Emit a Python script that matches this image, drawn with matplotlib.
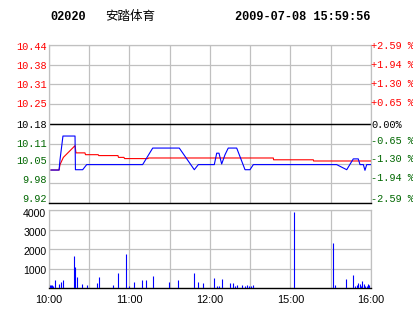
import matplotlib
matplotlib.use("Agg")
import matplotlib.pyplot as plt
from matplotlib.transforms import ScaledTranslation

# ---------------- data ----------------
stock_code = "02020"
stock_name = "安踏体育"
timestamp = "2009-07-08 15:59:56"
prev_close = 10.18
pct_range = 0.0259

price_labels = ["10.44", "10.38", "10.31", "10.25", "10.18", "10.11", "10.05", "9.98", "9.92"]
pct_labels = ["+2.59 %", "+1.94 %", "+1.30 %", "+0.65 %", "0.00%",
              "-0.65 %", "-1.30 %", "-1.94 %", "-2.59 %"]

# price line (minutes from 10:00 in trading time, price)
price_min = [1.5, 7.5, 8.2, 10.4, 19.4, 19.7, 25.1, 28.1, 69.8, 77.3, 97.1, 108.3, 111.3,
             123.2, 125.0, 126.7, 128.7, 131.2, 133.6, 139.9, 146.1, 149.8, 152.3,
             214.4, 221.9, 226.8, 230.5, 231.8, 234.3, 235.5, 236.8, 240.0]
price_val = [10.027, 10.027, 10.061, 10.140, 10.140, 10.028, 10.028, 10.045, 10.045, 10.100,
             10.100, 10.028, 10.045, 10.045, 10.083, 10.083, 10.047, 10.078, 10.100, 10.100,
             10.028, 10.028, 10.045, 10.045, 10.028, 10.064, 10.064, 10.045, 10.045,
             10.026, 10.045, 10.045]

# average price line
avg_min = [1.5, 7.5, 8.2, 10.7, 19.4, 20.1, 26.8, 27.2, 36.7, 37.0, 51.4, 51.8, 55.9, 56.3,
           73.8, 74.2, 167.2, 167.4, 197.0, 197.2, 240.0]
avg_val = [10.027, 10.027, 10.045, 10.069, 10.108, 10.084, 10.084, 10.078, 10.078, 10.075,
           10.075, 10.069, 10.069, 10.065, 10.065, 10.067, 10.067, 10.061, 10.061, 10.057,
           10.057]

# volume bars
vol_min = [0.75, 1.5, 2.2, 3.2, 4.5, 7.7, 8.9, 10.4, 18.9, 19.4, 21.1, 24.8, 28.5, 36.0, 37.5,
           47.9, 51.7, 57.6, 59.9, 63.6, 69.5, 72.5, 77.7, 89.7, 96.4, 108.3, 111.3, 115.0,
           123.2, 125.4, 126.7, 129.2, 134.8, 137.4, 138.4, 140.4, 144.1, 146.3, 147.8,
           149.3, 150.3, 152.3, 182.8, 211.9, 213.4, 221.6, 226.8, 228.3, 229.3, 230.5,
           231.5, 232.5, 233.5, 234.5, 235.7, 236.7, 237.5, 238.7, 239.8]
vol_val = [170, 170, 170, 120, 425, 200, 300, 425, 1670, 1100, 600, 240, 190, 290, 600,
           190, 800, 1770, 140, 340, 425, 425, 650, 340, 425, 800, 340, 270,
           530, 120, 120, 460, 270, 270, 120, 170, 170, 120, 170,
           140, 120, 170, 3900, 2330, 170, 475, 680, 120, 150, 270,
           200, 120, 375, 200, 120, 140, 220, 150, 120]
vol_ticks = [1000, 2000, 3000, 4000]

time_ticks = [0, 60, 120, 180, 240]
time_labels = ["10:00", "11:00", "12:00", "15:00", "16:00"]

# ---------------- style ----------------
RED = "#ff0000"
GREEN = "#006600"
GRID = "#c0c0c0"
MONO = "Liberation Mono"
SANS = "Liberation Sans"

# small vertical label nudges in pixels (positive = down)
left_dy = [1, 0, -0.7, -0.7, 0, -0.5, -4, -4.3, -5]
right_dy = [0.3, -1, -1.7, -2.3, 0, -3.7, -5.3, -6, -5.7]
vol_dy = [1, 2, 2.7, 3]

W, H = 414, 314
fig = plt.figure(figsize=(W / 100, H / 100), dpi=100)
fig.patch.set_facecolor("white")

def frac(l, t, r, b):
    return [l / W, 1 - b / H, (r - l) / W, (b - t) / H]

def nudge(labels, dys):
    for lab, dy in zip(labels, dys):
        lab.set_transform(lab.get_transform() +
                          ScaledTranslation(0, -dy / 100.0, fig.dpi_scale_trans))

# ---------------- price panel ----------------
ax = fig.add_axes(frac(49, 44.7, 371, 203.3))
span = prev_close * pct_range
ax.set_ylim(prev_close - span, prev_close + span)
ax.set_xlim(0, 240)
yt = [prev_close + span * (4 - i) / 4 for i in range(9)]
ax.set_yticks(yt)
ax.set_yticklabels(price_labels, family=MONO, fontsize=7.4)
ax.set_xticks(range(0, 241, 30))
ax.set_xticklabels([])
ax.tick_params(axis="both", length=0, pad=1.5)
for i, lab in enumerate(ax.get_yticklabels()):
    lab.set_color(RED if i < 4 else ("black" if i == 4 else GREEN))
nudge(ax.get_yticklabels(), left_dy)
ax.grid(True, color=GRID, linewidth=0.9)
ax.set_axisbelow(True)
for s in ["top", "left", "right"]:
    ax.spines[s].set_color(GRID)
    ax.spines[s].set_linewidth(0.9)
ax.spines["bottom"].set_color("black")
ax.spines["bottom"].set_linewidth(1.0)
ax.axhline(prev_close, color="black", linewidth=1.0, zorder=2)
ax.plot(avg_min, avg_val, color=RED, linewidth=0.8, zorder=3)
ax.plot(price_min, price_val, color="#0000ff", linewidth=0.8, zorder=4)

ax2 = ax.twinx()
ax2.set_ylim(ax.get_ylim())
ax2.set_yticks(yt)
ax2.set_yticklabels(pct_labels, family=MONO, fontsize=7.4)
ax2.tick_params(axis="y", length=0, pad=0)
for i, lab in enumerate(ax2.get_yticklabels()):
    lab.set_color(RED if i < 4 else ("black" if i == 4 else GREEN))
nudge(ax2.get_yticklabels(), right_dy)
for s in ax2.spines.values():
    s.set_visible(False)

# ---------------- volume panel ----------------
vx = fig.add_axes(frac(49, 210, 371, 288.3))
vx.set_xlim(0, 240)
vx.set_ylim(0, 4000)
vx.vlines(vol_min, 0, vol_val, color="#0000ff", linewidth=0.8, zorder=3)
vx.set_yticks(vol_ticks)
vx.set_yticklabels([str(v) for v in vol_ticks], family=SANS, fontsize=7.6)
vx.set_xticks(range(0, 241, 30))
vx.set_xticklabels(["" if t not in time_ticks else time_labels[time_ticks.index(t)]
                    for t in range(0, 241, 30)], family=SANS, fontsize=7.8)
vx.tick_params(axis="both", length=0, pad=2)
vx.tick_params(axis="x", pad=5)
nudge(vx.get_yticklabels(), vol_dy)
vx.grid(True, color=GRID, linewidth=0.9)
vx.set_axisbelow(True)
for s in ["top", "left", "right"]:
    vx.spines[s].set_color(GRID)
    vx.spines[s].set_linewidth(0.9)
vx.spines["bottom"].set_color("black")
vx.spines["bottom"].set_linewidth(1.0)

# ---------------- header ----------------
fig.text(50 / W, 1 - 16.7 / H, stock_code, family=MONO, fontweight="bold",
         fontsize=8.6, va="center", ha="left")
fig.text(105 / W, 1 - 16.7 / H, stock_name, family=["Noto Sans CJK SC", "DejaVu Sans"],
         fontsize=9.0, va="center", ha="left")
fig.text(370 / W, 1 - 16.7 / H, timestamp, family=MONO, fontweight="bold",
         fontsize=8.6, va="center", ha="right")

fig.savefig("out.png", dpi=100)
